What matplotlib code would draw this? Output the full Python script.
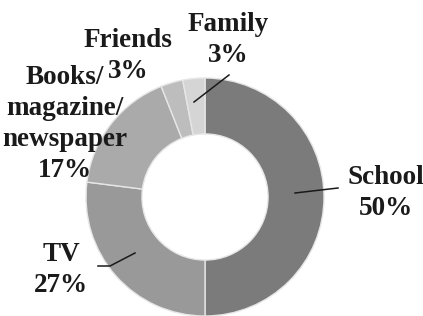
import matplotlib.pyplot as plt

labels = ['School', 'TV', 'Books/\nmagazine/\nnewspaper', 'Friends', 'Family']
values = [50, 27, 17, 3, 3]
colors = ['#7b7b7b', '#999999', '#aaaaaa', '#bdbdbd', '#d5d5d5']

# pixel geometry of the reference (center and outer radius)
cx, cy, r = 205, 197, 119
W, H = 423, 316


def px(x, y):
    return (x - cx) / r, (cy - y) / r


fig = plt.figure(figsize=(W / 100, H / 100), dpi=100)
ax = fig.add_axes([0, 0, 1, 1])
ax.pie(values, colors=colors, startangle=90, counterclock=False, radius=1,
       wedgeprops=dict(width=0.47, edgecolor='#e6e6e6', linewidth=1))
ax.set_xlim(-cx / r, (W - cx) / r)
ax.set_ylim(-(H - cy) / r, cy / r)
ax.set_aspect('auto')
ax.axis('off')

font = dict(family='Liberation Serif', fontweight='bold', fontsize=19.5,
            color='#1a1a1a', ha='center', va='center', linespacing=1.3)

# label text: (text, pixel x, pixel y)
texts = [
    (labels[0] + '\n' + '%d%%' % values[0], 386, 193),
    (labels[1] + '\n' + '%d%%' % values[1], 61, 270),
    (labels[2] + '\n' + '%d%%' % values[2], 65, 124),
    (labels[3] + '\n' + '%d%%' % values[3], 128, 56),
    (labels[4] + '\n' + '%d%%' % values[4], 228, 40),
]
for t, x, y in texts:
    ax.text(*px(x, y), t, **font)

# leader lines
leaders = [
    [(295, 193), (338, 188)],
    [(135, 253), (110, 266), (98, 266)],
    [(194, 102), (229, 75)],
]
for pts in leaders:
    xs, ys = zip(*[px(a, b) for a, b in pts])
    ax.plot(xs, ys, color='#1a1a1a', lw=1.1)

fig.savefig('out.png', dpi=100)
